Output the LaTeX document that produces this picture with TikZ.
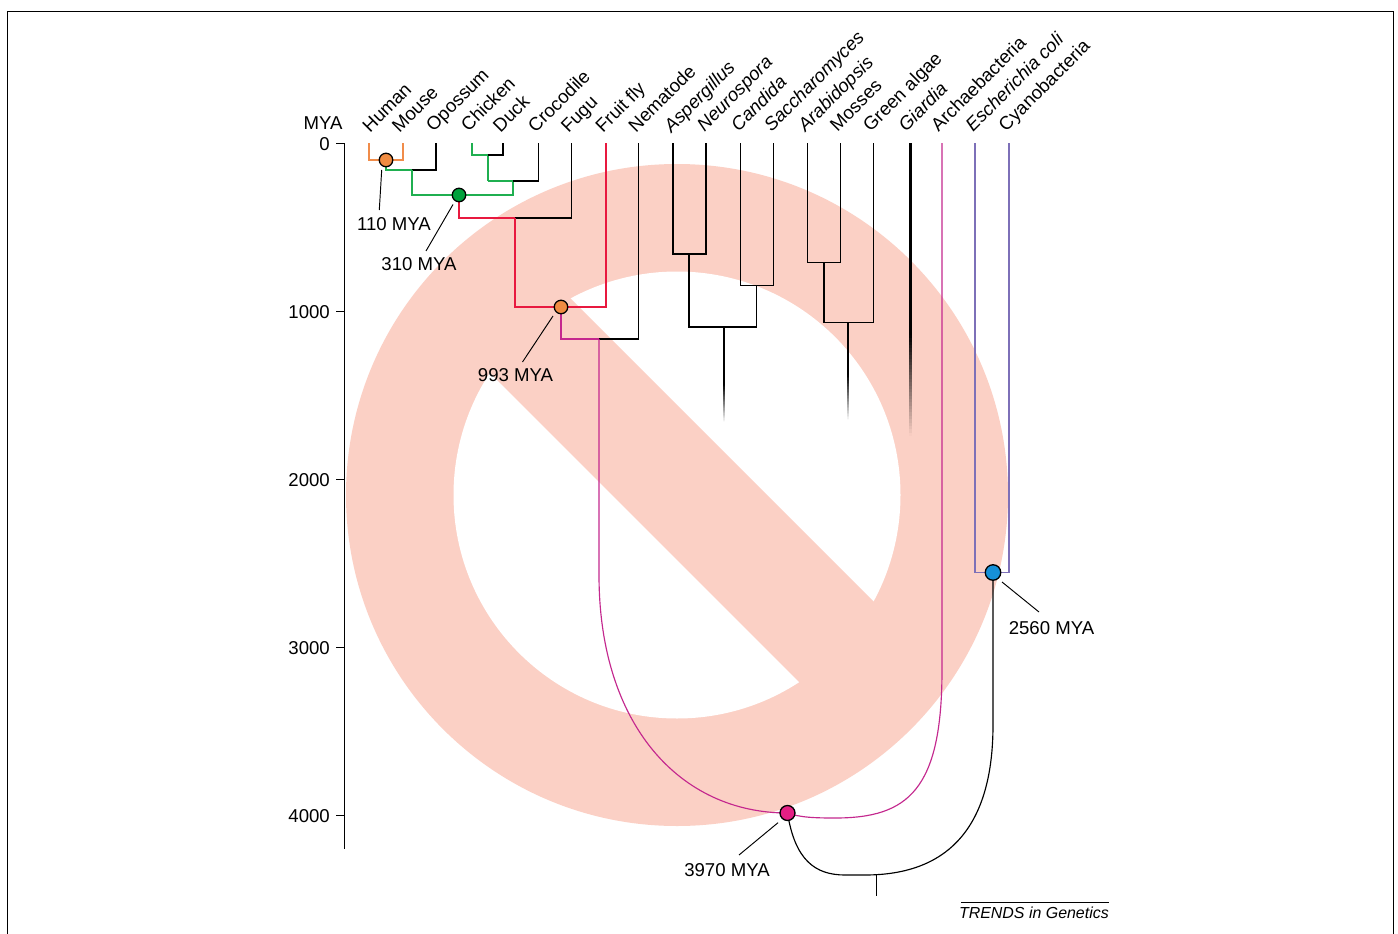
\documentclass[tikz,border=0pt]{standalone}
\usepackage{fontspec}
\setmainfont{Liberation Sans}
\definecolor{ringpink}{HTML}{FBD0C5}
\definecolor{orangeline}{HTML}{F08C4A}
\definecolor{orangedot}{HTML}{F08C42}
\definecolor{greenline}{HTML}{1FAF50}
\definecolor{greendot}{HTML}{00A23C}
\definecolor{redline}{HTML}{E8193F}
\definecolor{magline}{HTML}{C4288E}
\definecolor{magdot}{HTML}{E41F84}
\definecolor{blueline}{HTML}{7D70B8}
\definecolor{bluedot}{HTML}{1690D8}
\newcommand{\fadestem}[4]{% x, y start, y end, half width
  \foreach \i in {0,...,29} {
    \pgfmathsetmacro{\ya}{#2+(#3-#2)*\i/30}
    \pgfmathsetmacro{\yb}{#2+(#3-#2)*(\i+1)/30}
    \pgfmathsetmacro{\op}{1-(\i+0.5)/30}
    \fill[black, fill opacity=\op] (#1-#4,\ya) rectangle (#1+#4,\yb);
  }
}
\tikzset{
  x=1pt, y=-1pt,
  lab/.style={font=\fontsize{18.6}{20}\selectfont, text=black, inner sep=0pt},
  taxon/.style={lab, rotate=45, anchor=base west},
  gtaxon/.style={taxon, font=\fontsize{18.6}{20}\selectfont\itshape},
  tree/.style={line width=1.15pt, line cap=butt, line join=miter},
  blk/.style={tree, draw=black},
  org/.style={tree, draw=orangeline},
  grn/.style={tree, draw=greenline},
  rdl/.style={tree, draw=redline},
  mgl/.style={tree, draw=magline},
  bll/.style={tree, draw=blueline},
  dot/.style={circle, draw=black, line width=1.3pt, minimum size=14.5pt, inner sep=0pt},
  leader/.style={line width=0.95pt, draw=black},
  axisline/.style={line width=1.6pt, draw=black},
}
\begin{document}
\begin{tikzpicture}
\useasboundingbox (0,0) rectangle (1398,934);
\fill[white] (0,0) rectangle (1398,934);
% frame
\draw[line width=1.3pt] (7.5,934) -- (7.5,11.5) -- (1393.5,11.5) -- (1393.5,934);
% prohibition sign
\fill[ringpink] (677,495) circle[radius=331];
\fill[white] (677,495) circle[radius=223.5];
\begin{scope}
  \clip (677,495) circle[radius=224.5];
  \fill[ringpink] (477,205) -- (977,705) -- (822,705) -- (322,205) -- cycle;
\end{scope}
% tips
\foreach \n/\x in {human/369,mouse/403,opossum/436,chicken/472,duck/503,croc/538.5,fugu/571.5,fly/606,nema/638.5,asp/673,neu/706,cand/740.5,sacc/773.5,arab/807.5,moss/840.5,alg/873.5,giar/910.5,arch/942,ecoli/975,cyan/1009}
  \coordinate (\n) at (\x,143);
% junctions
\coordinate (a1) at (412,170);
\coordinate (a2) at (513,195);
\coordinate (a3) at (513,181);
\coordinate (a4) at (488,181);
\coordinate (a5) at (488,155);
\coordinate (r1) at (515,218);
\coordinate (m1) at (599,339);
\coordinate (m2) at (599,575);
\coordinate (m3) at (835,818);
\coordinate (m4) at (942,670);
\coordinate (k1) at (845,875);
\coordinate (k2) at (865,875);
\coordinate (k3) at (993,725);
\coordinate (f1) at (689,254);
\coordinate (f2) at (756.5,285.5);
\coordinate (f3) at (724,327);
\coordinate (p1) at (824,262.5);
\coordinate (p2) at (848,322.5);
\coordinate (stub) at (876.5,875);
\coordinate (stubend) at (876.5,896);
\coordinate (n110) at (386,160);
\coordinate (n310) at (459,195);
\coordinate (n993) at (561,307);
\coordinate (n3970) at (787.5,813);
\coordinate (n2560) at (993,572.5);
% connectors
\draw[org] (human) |- (n110) -| (mouse);
\draw[grn] (n110) |- (a1);
\draw[blk] (a1) -| (opossum);
\draw[grn] (a1) |- (n310) -- (a2) -- (a3);
\draw[grn] (chicken) |- (a5) -- (a4);
\draw[blk] (a5) -| (duck);
\draw[grn] (a4) -- (a3);
\draw[blk] (a3) -| (croc);
\draw[rdl] (n310) |- (r1);
\draw[blk] (r1) -| (fugu);
\draw[rdl] (r1) |- (n993) -| (fly);
\draw[mgl] (n993) |- (m1);
\draw[blk] (m1) -| (nema);
\draw[mgl] (m1) -- (m2) .. controls (599,725) and (680,813) .. (n3970);
\draw[mgl] (n3970) .. controls (800,817.5) and (815,818) .. (m3) .. controls (908,818) and (942,790) .. (m4) -- (arch);
\draw[blk] (n3970) .. controls (795,860) and (815,875) .. (k1) -- (k2) .. controls (950,875) and (993,825) .. (k3) -- (n2560);
\draw[blk] (stub) -- (stubend);
\draw[bll] (ecoli) |- (n2560) -| (cyan);
\draw[blk] (asp) |- (f1) -| (neu);
\draw[blk] (cand) |- (f2) -| (sacc);
\draw[blk] (f1) |- (f3) -| (f2);
\draw[blk] (arab) |- (p1) -| (moss);
\draw[blk] (p1) |- (p2) -| (alg);
% fading stems
\draw[line width=1.9pt] (f3) -- (724,385);
\fadestem{724}{385}{422}{0.95}
\draw[line width=1.9pt] (p2) -- (848,375);
\fadestem{848}{375}{420}{0.95}
\draw[line width=3pt] (giar) -- (910.5,335);
\fadestem{910.5}{335}{436}{1.5}
% dots
\node[dot, fill=orangedot, minimum size=13.5pt] (d110) at (n110) {};
\node[dot, fill=greendot, minimum size=13.5pt] (d310) at (n310) {};
\node[dot, fill=orangedot, minimum size=13.5pt] (d993) at (n993) {};
\node[dot, fill=magdot, minimum size=15pt] (d3970) at (n3970) {};
\node[dot, fill=bluedot, minimum size=15.5pt] (d2560) at (n2560) {};
% axis
\coordinate (axtop) at (344.5,143.5);
\coordinate (axbot) at (344.5,849);
\draw[axisline] (axtop) -- (axbot);
\foreach \y/\t in {143.5/0,311.5/1000,479.5/2000,647.5/3000,815.5/4000} {
  \coordinate (tk\t) at (336,\y);
  \draw[axisline] (tk\t) -- (344.5,\y);
  \node[lab, anchor=east] at (330,\y+0.5) {\t};
}
\node[lab] (mya) at (323,123) {MYA};
% taxa
\node[taxon] at (370,133.5) {Human};
\node[taxon] at (399.5,133.5) {Mouse};
\node[taxon] at (433.5,132.5) {Opossum};
\node[taxon] at (468.5,132.5) {Chicken};
\node[taxon] at (500.5,133.5) {Duck};
\node[taxon] at (535.5,133.5) {Crocodile};
\node[taxon] at (568.5,133.5) {Fugu};
\node[taxon] at (603,133.5) {Fruit fly};
\node[taxon] at (636,133.5) {Nematode};
\node[gtaxon] at (671.5,133.5) {Aspergillus};
\node[gtaxon] at (704.5,132.5) {Neurospora};
\node[gtaxon] at (738.5,132.5) {Candida};
\node[gtaxon] at (771.5,132.5) {Saccharomyces};
\node[gtaxon] at (805.5,132.5) {Arabidopsis};
\node[taxon] at (837.5,132.5) {Mosses};
\node[taxon] at (870.5,132.5) {Green algae};
\node[gtaxon] at (906,132.5) {Giardia};
\node[taxon] at (938.5,132.5) {Archaebacteria};
\node[gtaxon] at (973,132.5) {Escherichia coli};
\node[taxon] at (1006,132.5) {Cyanobacteria};
% date labels and leaders
\node[lab] (l110) at (394,224.5) {110 MYA};
\node[lab] (l310) at (419,264.5) {310 MYA};
\node[lab] (l993) at (515.5,375.5) {993 MYA};
\node[lab] (l3970) at (727,870.5) {3970 MYA};
\node[lab] (l2560) at (1051.5,628.5) {2560 MYA};
\coordinate (q110) at (379.3,210);
\coordinate (q310) at (426,251);
\coordinate (q993) at (522.5,362);
\coordinate (q3970) at (739,855);
\coordinate (q2560) at (1039,612);
\draw[leader] (q110) -- (381.7,170);
\draw[leader] (q310) -- (453,204.5);
\draw[leader] (q993) -- (553,316);
\draw[leader] (q3970) -- (778,822.7);
\draw[leader] (q2560) -- (1002,582);
% credit
\node[lab, anchor=base east, font=\fontsize{15.95}{18}\selectfont\itshape] (credit) at (1109,918) {TRENDS in Genetics};
\coordinate (cl) at (961,902.5);
\coordinate (cr) at (1109,902.5);
\draw[line width=1pt] (cl) -- (cr);
\end{tikzpicture}
\end{document}
